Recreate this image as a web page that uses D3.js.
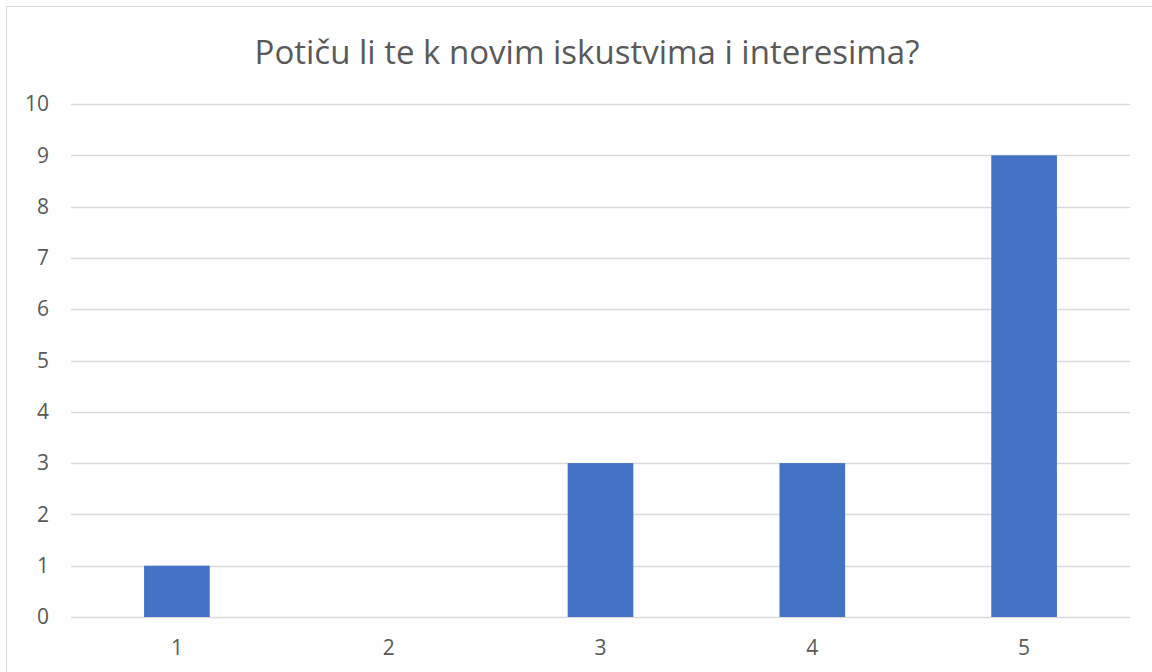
<!DOCTYPE html>
<html>
<head>
<meta charset="utf-8">
<script src="https://cdn.jsdelivr.net/npm/d3@7"></script>
<style>
  body { margin: 0; background: #fff; }
  svg { display: block; font-family: "Open Sans", "Noto Sans", sans-serif; }
</style>
</head>
<body>
<svg id="chart" width="1152" height="672"></svg>
<script>
var title = 'Potiču li te k novim iskustvima i interesima?'
var categories = ['1', '2', '3', '4', '5']
var counts = [1, 0, 3, 3, 9]
var yTicks = [0, 1, 2, 3, 4, 5, 6, 7, 8, 9, 10]

var svg = d3.select('#chart')
var margin = { left: 71, right: 22, top: 104, bottom: 55 }
var W = 1152, H = 672
var font = '"Open Sans", "Noto Sans", sans-serif'

// chart frame (runs off the right and bottom edges)
svg.append('rect')
  .attr('x', 6.5).attr('y', 6.5)
  .attr('width', 1200).attr('height', 700)
  .attr('fill', '#fff').attr('stroke', '#d9d9d9')

var x = d3.scaleBand().domain(categories)
  .range([margin.left, W - margin.right])
  .paddingInner(0.69).paddingOuter(0.345)
var y = d3.scaleLinear().domain([0, 10]).range([H - margin.bottom, margin.top])

svg.append('text')
  .attr('x', 587).attr('y', 64)
  .attr('text-anchor', 'middle')
  .attr('font-size', 33).attr('fill', '#595959')
  .attr('font-family', font)
  .text(title)

// gridlines
svg.append('g').selectAll('line').data(yTicks).join('line')
  .attr('x1', margin.left).attr('x2', W - margin.right)
  .attr('y1', function (d) { return Math.round(y(d)) + 0.5 })
  .attr('y2', function (d) { return Math.round(y(d)) + 0.5 })
  .attr('stroke', '#d9d9d9').attr('stroke-width', 1.3)

var yAxis = svg.append('g')
  .attr('transform', 'translate(49,0)')
  .call(d3.axisLeft(y).tickValues(yTicks).tickSize(0).tickPadding(0))
yAxis.select('.domain').remove()
yAxis.selectAll('text').attr('font-size', 21).attr('fill', '#595959')
  .attr('font-family', font)

var xAxis = svg.append('g')
  .attr('transform', 'translate(0,' + (H - margin.bottom) + ')')
  .call(d3.axisBottom(x).tickSize(0).tickPadding(23))
xAxis.select('.domain').remove()
xAxis.selectAll('text').attr('font-size', 21).attr('fill', '#595959')
  .attr('font-family', font)

svg.append('g').selectAll('rect').data(counts).join('rect')
  .attr('x', function (d, i) { return x(categories[i]) })
  .attr('width', x.bandwidth())
  .attr('y', function (d) { return y(d) })
  .attr('height', function (d) { return y(0) - y(d) })
  .attr('fill', '#4472c4')
</script>
</body>
</html>
